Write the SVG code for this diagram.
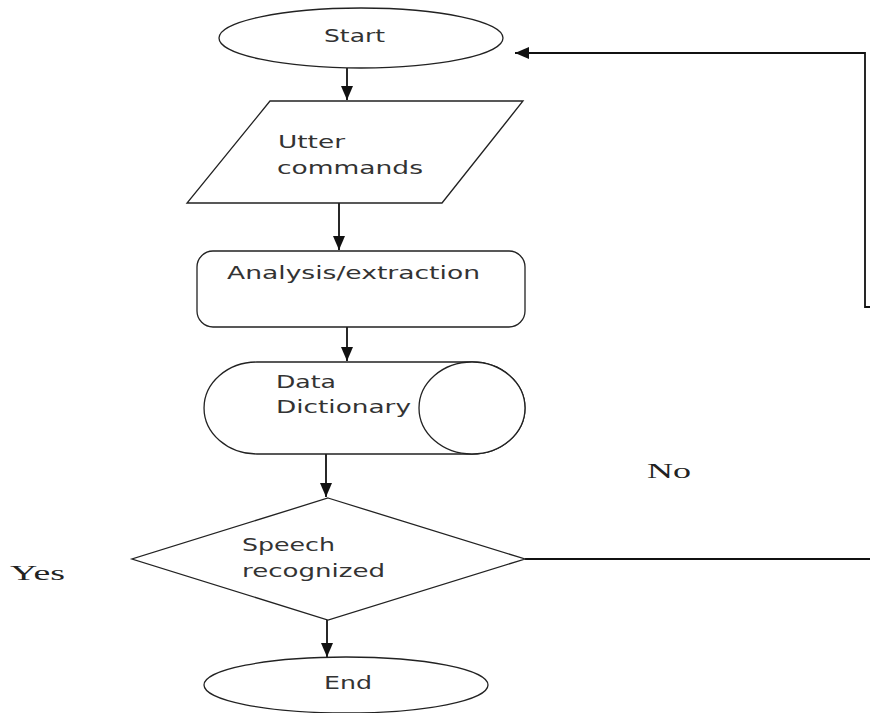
<svg xmlns="http://www.w3.org/2000/svg" width="870" height="713" viewBox="0 0 870 713">
<style>
.s{fill:#fff;stroke:#222;stroke-width:1.3}
.t{font-family:"DejaVu Sans",Verdana,sans-serif;font-size:17px;fill:#333}
.r{font-family:"Liberation Serif","Times New Roman",serif;font-size:22px;fill:#222}
.c{fill:none;stroke:#111;stroke-width:1.8}
</style>
<defs>
<marker id="ah" markerUnits="userSpaceOnUse" markerWidth="16" markerHeight="12" refX="14" refY="6" orient="auto">
<path d="M0,0 L14,6 L0,12 Z" fill="#111"/>
</marker>
</defs>
<rect width="870" height="713" fill="#fff"/>
<g id="connectors">
<line class="c" x1="347" y1="68" x2="347" y2="100" marker-end="url(#ah)"/>
<line class="c" x1="339" y1="203" x2="339" y2="250" marker-end="url(#ah)"/>
<line class="c" x1="347" y1="327" x2="347" y2="361" marker-end="url(#ah)"/>
<line class="c" x1="326" y1="454" x2="326" y2="497" marker-end="url(#ah)"/>
<line class="c" x1="327" y1="620" x2="327" y2="657" marker-end="url(#ah)"/>
<line class="c" x1="525" y1="559" x2="870" y2="559"/>
<polyline class="c" points="870,307 865,307 865,53 515,53" marker-end="url(#ah)"/>
</g>
<g id="start">
<ellipse class="s" cx="361" cy="38" rx="142" ry="30"/>
<text class="t" x="324" y="42" textLength="61" lengthAdjust="spacingAndGlyphs">Start</text>
</g>
<g id="utter">
<polygon class="s" points="270,101 523,101 442,203 187,203"/>
<text class="t" x="278" y="148" textLength="67" lengthAdjust="spacingAndGlyphs">Utter</text>
<text class="t" x="277" y="174" textLength="146" lengthAdjust="spacingAndGlyphs">commands</text>
</g>
<g id="analysis">
<rect class="s" x="197" y="251" width="328" height="76" rx="16" ry="16"/>
<text class="t" x="227" y="279" textLength="253" lengthAdjust="spacingAndGlyphs">Analysis/extraction</text>
</g>
<g id="dictionary">
<path class="s" d="M257,362 L472,362 A53,46 0 0 1 472,454 L257,454 A53,46 0 0 1 257,362 Z"/>
<ellipse class="s" cx="472" cy="408" rx="53" ry="46"/>
<text class="t" x="276" y="388" textLength="60" lengthAdjust="spacingAndGlyphs">Data</text>
<text class="t" x="276" y="413" textLength="135" lengthAdjust="spacingAndGlyphs">Dictionary</text>
</g>
<g id="decision">
<polygon class="s" points="328,498 525,559 328,620 132,559"/>
<text class="t" x="242" y="551" textLength="93" lengthAdjust="spacingAndGlyphs">Speech</text>
<text class="t" x="242" y="577" textLength="143" lengthAdjust="spacingAndGlyphs">recognized</text>
</g>
<g id="end">
<ellipse class="s" cx="346" cy="685" rx="142" ry="28"/>
<text class="t" x="324" y="689" textLength="48" lengthAdjust="spacingAndGlyphs">End</text>
</g>
<g id="labels">
<text class="r" x="647" y="478" textLength="44" lengthAdjust="spacingAndGlyphs">No</text>
<text class="r" x="10" y="580" textLength="55" lengthAdjust="spacingAndGlyphs">Yes</text>
</g>
</svg>
